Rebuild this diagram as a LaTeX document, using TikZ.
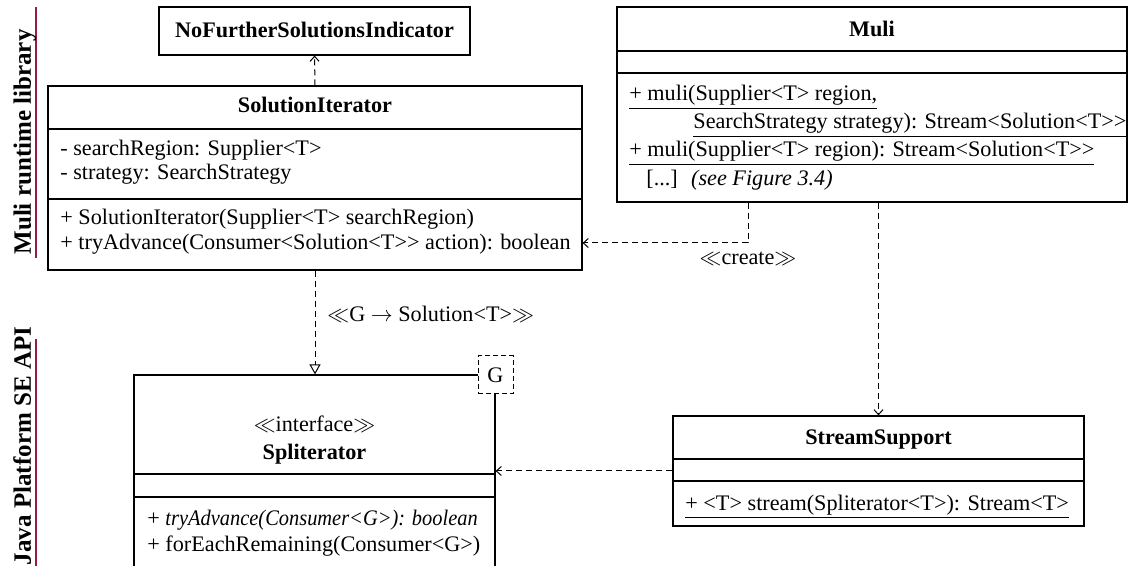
\documentclass[tikz,border=0pt]{standalone}
\usepackage{fontspec}
\usepackage{graphicx}
\setmainfont{Liberation Serif}[Ligatures=TeXOff]
\usetikzlibrary{fit,arrows.meta}
\definecolor{sepred}{RGB}{150,30,70}
\newcommand{\LT}{<}
\newcommand{\GT}{>}
\begin{document}
\begin{tikzpicture}[x=0.5pt,y=-0.5pt,
  classbox/.style={draw, line width=0.6pt, inner sep=0pt},
  divider/.style={line width=0.6pt},
  txt/.style={anchor=base west, inner sep=0pt},
  ttl/.style={anchor=base, inner sep=0pt, font=\bfseries},
  lbl/.style={anchor=base, inner sep=0pt},
  side/.style={anchor=base, rotate=90, inner sep=0pt, font=\fontsize{12.5}{14}\selectfont\bfseries},
  sepline/.style={draw=sepred, line width=1pt},
  dep/.style={line width=0.5pt, dash pattern=on 3pt off 2pt, -{Straight Barb[length=2.5pt,width=4.5pt]}},
  real/.style={line width=0.5pt, dash pattern=on 3pt off 2pt, -{Triangle[open,length=5pt,width=5.5pt]}},
  gbox/.style={draw, line width=0.5pt, dash pattern=on 2.5pt off 1.5pt, fill=white, inner sep=0pt, minimum width=17.5pt, minimum height=19pt}
]
\fontsize{11.1}{13}\selectfont
\useasboundingbox (0,0) rectangle (1130,566);
\clip (0,0) rectangle (1130,566);

% package separators on the left
\draw[sepline] (36,7) -- (36,258);
\node[side] (sideMuli) at (31,142) {Muli runtime library};
\draw[sepline] (36,339) -- (36,566);
\node[side] (sideJava) at (31,446) {Java Platform SE API};

% NoFurtherSolutionsIndicator
\node[classbox, fit={(159,7) (470,55)}] (nofurther) {};
\node[ttl] (nofurtherT) at (314.5,38) {NoFurtherSolutionsIndicator};

% SolutionIterator
\node[classbox, fit={(48,86) (582,270)}] (solit) {};
\node[ttl] (solitT) at (315,113) {SolutionIterator};
\draw[divider] (solit.west |- 0,129) -- (solit.east |- 0,129);
\draw[divider] (solit.west |- 0,199) -- (solit.east |- 0,199);
\node[txt] (solitA1) at (60,156) {- searchRegion: Supplier\LT T\GT};
\node[txt] (solitA2) at (60,180) {- strategy: SearchStrategy};
\node[txt] (solitM1) at (60,225) {+ SolutionIterator(Supplier\LT T\GT{} searchRegion)};
\node[txt] (solitM2) at (60,250) {+ tryAdvance(Consumer\LT Solution\LT T\GT\GT{} action): boolean};

% Muli
\node[classbox, fit={(617,7) (1127,202)}] (muli) {};
\node[ttl] (muliT) at (872,37) {Muli};
\draw[divider] (muli.west |- 0,51) -- (muli.east |- 0,51);
\draw[divider] (muli.west |- 0,73) -- (muli.east |- 0,73);
\node[txt] (muliM1) at (629,101) {\underline{+ muli(Supplier\LT T\GT{} region,}};
\node[txt] (muliM2) at (693,129) {\underline{SearchStrategy strategy): Stream\LT Solution\LT T\GT\GT}};
\node[txt] (muliM3) at (629,157) {\underline{+ muli(Supplier\LT T\GT{} region): Stream\LT Solution\LT T\GT\GT}};
\node[txt] (muliM4) at (646,186) {[...]\hspace{0.6em}\textit{(see Figure 3.4)}};

% Spliterator (runs past the lower edge)
\node[classbox, fit={(134,375) (495,640)}] (split) {};
\node[lbl] (splitS) at (314.5,432) {$\ll$interface$\gg$};
\node[ttl] (splitT) at (314.5,459) {Spliterator};
\draw[divider] (split.west |- 0,474) -- (split.east |- 0,474);
\draw[divider] (split.west |- 0,497) -- (split.east |- 0,497);
\node[txt] (splitM1) at (147,525) {+ \scalebox{0.92}[1]{\textit{tryAdvance(Consumer\LT G\GT): boolean}}};
\node[txt] (splitM2) at (147,552) {+ forEachRemaining(Consumer\LT G\GT)};
\node[gbox] (gparam) at (495.5,375) {G};

% StreamSupport
\node[classbox, fit={(673,416) (1084,526)}] (stream) {};
\node[ttl] (streamT) at (878.5,445) {StreamSupport};
\draw[divider] (stream.west |- 0,459) -- (stream.east |- 0,459);
\draw[divider] (stream.west |- 0,481) -- (stream.east |- 0,481);
\node[txt] (streamM1) at (685,510) {\underline{+ \LT T\GT{} stream(Spliterator\LT T\GT): Stream\LT T\GT}};

% relations
\draw[dep] (solit.north) -- (nofurther.south);
\coordinate (createBend) at (748,243);
\draw[dep] (createBend |- muli.south) -- (createBend) -- (createBend -| solit.east);
\node[lbl] (createL) at (748,265) {$\ll$create$\gg$};
\draw[dep] (stream.north |- muli.south) -- (stream.north);
\draw[dep] (stream.west) -- (stream.west -| split.east);
\draw[real] (solit.south) -- (solit.south |- split.north);
\node[txt] (bindL) at (327,322) {$\ll$G $\rightarrow$ Solution\LT T\GT$\gg$};
\end{tikzpicture}
\end{document}
